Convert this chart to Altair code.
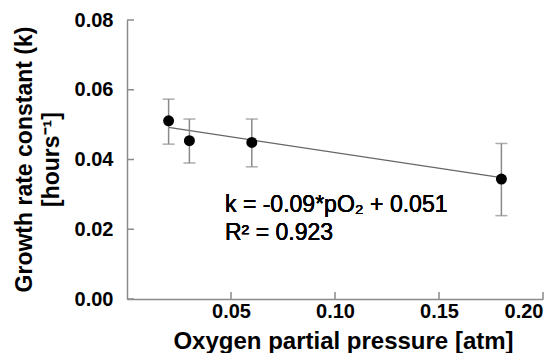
import altair as alt
import pandas as pd

# Data
po2 = [0.020, 0.030, 0.060, 0.180]
k_mean = [0.0511, 0.0454, 0.0449, 0.0344]
k_lo = [0.0444, 0.0390, 0.0379, 0.0239]
k_hi = [0.0573, 0.0516, 0.0516, 0.0446]
fit_x = [0.020, 0.180]
fit_k = [0.0492, 0.0348]
x_ticks = [0.05, 0.10, 0.15, 0.20]
y_ticks = [0.00, 0.02, 0.04, 0.06, 0.08]
eq_lines = ["k = -0.09*pO\u2082 + 0.051", "R\u00b2 = 0.923"]

pts = pd.DataFrame({"x": po2, "k": k_mean, "lo": k_lo, "hi": k_hi})
fit = pd.DataFrame({"x": fit_x, "k": fit_k})
xt = pd.DataFrame({"v": x_ticks})
yt = pd.DataFrame({"v": y_ticks})

FONT = "Liberation Sans"
AXC = "#8a8a8a"

xscale = alt.Scale(domain=[0, 0.2], nice=False, zero=False)
yscale = alt.Scale(domain=[0, 0.08], nice=False)

xaxis = alt.Axis(values=x_ticks, format=".2f", ticks=False, grid=False,
                 domainColor=AXC, domainWidth=1.5,
                 labelFont=FONT, labelFontSize=20, labelFontWeight="bold", labelColor="black",
                 labelPadding=2,
                 title="Oxygen partial pressure [atm]", titleFont=FONT, titleFontSize=24,
                 titleFontWeight="bold", titleColor="black",
                 titleX=216, titleY=49, titleBaseline="alphabetic", titleAlign="center")
yaxis = alt.Axis(values=y_ticks, format=".2f", ticks=False, grid=False,
                 domainColor=AXC, domainWidth=1.5,
                 labelFont=FONT, labelFontSize=20, labelFontWeight="bold", labelColor="black",
                 labelPadding=14,
                 title=["Growth rate constant (k)", "[hours\u207b\u00b9]"],
                 titleFont=FONT, titleFontSize=23, titleFontWeight="bold", titleColor="black",
                 titleAngle=-90, titleX=-103, titleY=139, titleAlign="center",
                 titleBaseline="middle", titleLineHeight=27)

base_pts = alt.Chart(pts)

bars = base_pts.mark_rule(color=AXC, strokeWidth=1.5).encode(
    x=alt.X("x:Q", scale=xscale, axis=xaxis),
    y=alt.Y("lo:Q", scale=yscale, axis=yaxis),
    y2="hi:Q")
cap_lo = base_pts.mark_tick(color=AXC, thickness=1.5, size=12, orient="horizontal").encode(
    x=alt.X("x:Q", scale=xscale), y=alt.Y("lo:Q", scale=yscale))
cap_hi = base_pts.mark_tick(color=AXC, thickness=1.5, size=12, orient="horizontal").encode(
    x=alt.X("x:Q", scale=xscale), y=alt.Y("hi:Q", scale=yscale))
line = alt.Chart(fit).mark_line(color="#666666", strokeWidth=1.2).encode(
    x=alt.X("x:Q", scale=xscale), y=alt.Y("k:Q", scale=yscale))
dots = base_pts.mark_circle(color="black", opacity=1, size=120).encode(
    x=alt.X("x:Q", scale=xscale), y=alt.Y("k:Q", scale=yscale))

ytick_marks = alt.Chart(yt).mark_rule(color=AXC, strokeWidth=1.5).encode(
    x=alt.value(0), x2=alt.value(7), y=alt.Y("v:Q", scale=yscale))
xtick_marks = alt.Chart(xt).mark_rule(color=AXC, strokeWidth=1.5).encode(
    x=alt.X("v:Q", scale=xscale), y=alt.value(279), y2=alt.value(272))

eq = alt.Chart(pts).mark_text(text=eq_lines, font=FONT, fontSize=23, align="left",
                              baseline="alphabetic", lineHeight=28, color="black").encode(
    x=alt.value(98), y=alt.value(192))

chart = alt.layer(ytick_marks, xtick_marks, line, bars, cap_lo, cap_hi, dots, eq).properties(
    width=416, height=279,
    autosize=alt.AutoSizeParams(type="none"),
    padding={"left": 119, "top": 12, "right": 8, "bottom": 54},
).configure_view(stroke=None)

chart.save("out.html", embed_options={"renderer": "svg", "actions": False})
